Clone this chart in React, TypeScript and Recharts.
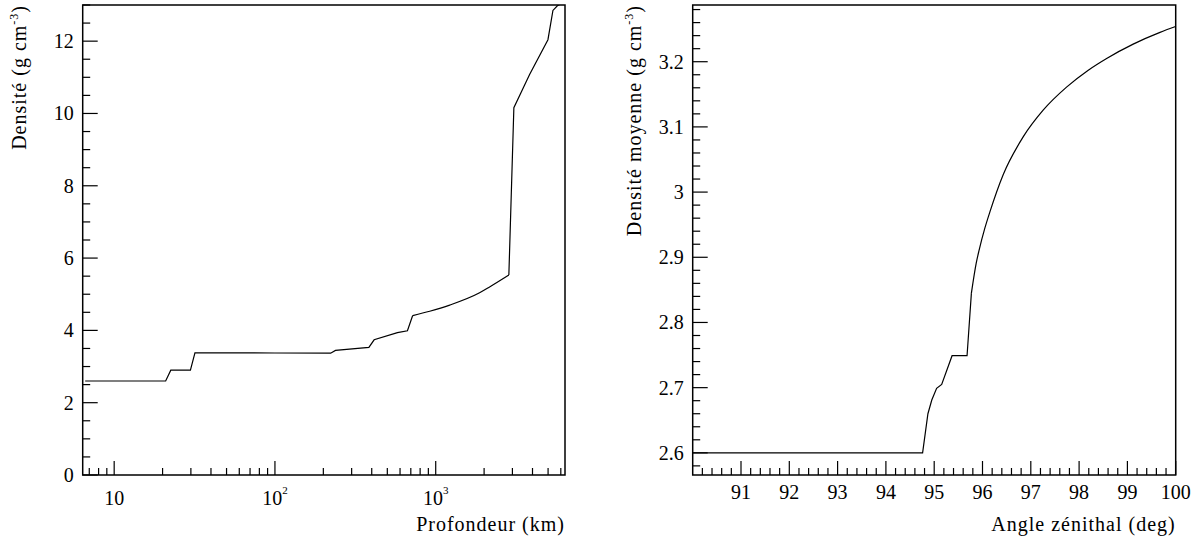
import React from 'react';
import { LineChart, Line, XAxis, YAxis, ReferenceArea } from 'recharts';

const SERIF = 'Liberation Serif';

// Profil de densité en fonction de la profondeur (graphique de gauche)
const depthKm = [6.6, 20.9, 22.5, 29.8, 31.8, 100, 222, 238, 384, 414, 578, 667, 719, 918, 1222, 1875, 2163, 2851, 3063, 3837, 4990, 5360, 5710, 6371];
const density = [2.6, 2.6, 2.9, 2.9, 3.38, 3.375, 3.37, 3.445, 3.53, 3.74, 3.94, 3.99, 4.41, 4.53, 4.7, 5.04, 5.2, 5.53, 10.16, 11.08, 12.04, 12.85, 12.98, 13.09];
// portion lisse (manteau inférieur) : indices 12 à 17
const depthSmooth = [12, 17];

// Densité moyenne en fonction de l'angle zénithal (graphique de droite)
const zenithDeg = [90, 94.76, 94.87, 94.95, 95.05, 95.155, 95.37, 95.68, 95.77, 95.87, 95.93, 96.05, 96.155, 96.43, 96.845, 97.26, 97.74, 98.19, 98.57, 99.12, 99.675, 100];
const meanDensity = [2.6, 2.6, 2.66, 2.681, 2.699, 2.705, 2.749, 2.749, 2.845, 2.891, 2.911, 2.945, 2.97, 3.027, 3.085, 3.126, 3.161, 3.187, 3.205, 3.227, 3.245, 3.254];
const zenithSmooth = [8, 21];

// axes
const depthDomain = [6.371, 6371];
const depthMajor = [10, 100, 1000];
const depthMinor = [7, 8, 9, 20, 30, 40, 50, 60, 70, 80, 90, 200, 300, 400, 500, 600, 700, 800, 900, 2000, 3000, 4000, 5000, 6000];
const densityDomain = [0, 13];
const densityMajor = [0, 2, 4, 6, 8, 10, 12];

const zenithDomain = [90, 100];
const zenithMajor = [91, 92, 93, 94, 95, 96, 97, 98, 99, 100];
const meanDomain = [2.566, 3.287];
const meanMajor = [2.6, 2.7, 2.8, 2.9, 3, 3.1, 3.2];

const steps = (from: number, to: number, step: number) => {
  const out: number[] = [];
  for (let v = from; v <= to + 1e-9; v += step) out.push(Math.round(v * 1000) / 1000);
  return out;
};
const isIn = (arr: number[], v: number) => arr.some(a => Math.abs(a - v) < 1e-6);

// split each profile into a straight part and a smooth part
const split = (xs: number[], ys: number[], key: string, [a, b]: number[]) =>
  xs.map((x, i) => ({
    [key]: x,
    lin: i <= a || i >= b ? ys[i] : undefined,
    smooth: i >= a && i <= b ? ys[i] : undefined,
  }));

const depthData = split(depthKm, density, 'depth', depthSmooth);
const zenithData = split(zenithDeg, meanDensity, 'angle', zenithSmooth);

const XTick = (props: any) => {
  const { x, y, payload, majors, base, fmt } = props;
  const major = isIn(majors, payload.value);
  return (
    <g>
      <line x1={x} x2={x} y1={y} y2={y - (major ? 14 : 7)} stroke="#000" strokeWidth={1.2} />
      {major && fmt && (
        <text x={x} y={y + base} textAnchor="middle" fontFamily={SERIF} fontSize={20} fill="#000">{fmt(payload.value)}</text>
      )}
    </g>
  );
};

const YTick = (props: any) => {
  const { x, y, payload, majors } = props;
  const major = isIn(majors, payload.value);
  return (
    <g>
      <line x1={x} x2={x + (major ? 15 : 7.5)} y1={y} y2={y} stroke="#000" strokeWidth={1.2} />
      {major && (
        <text x={x - 9} y={y + 7} textAnchor="end" fontFamily={SERIF} fontSize={20} fill="#000">{String(payload.value)}</text>
      )}
    </g>
  );
};

const logLabel = (v: number) => {
  if (v === 10) return '10';
  const p = Math.round(Math.log10(v));
  return (
    <>
      10<tspan dy={-11} fontSize={11}>{p}</tspan>
    </>
  );
};

const XTitle = (text: string) => (props: any) => {
  const vb = props.viewBox || {};
  return (
    <text x={vb.x + vb.width} y={vb.y + 56} textAnchor="end" fontFamily={SERIF} fontSize={20} fill="#000" letterSpacing={1}>{text}</text>
  );
};

const YTitle = (text: string, bx: number) => (props: any) => {
  const vb = props.viewBox || {};
  const x = (vb.x || 0) + bx;
  const y = vb.y;
  return (
    <text transform={`translate(${x},${y}) rotate(-90)`} textAnchor="end" fontFamily={SERIF} fontSize={20} fill="#000" letterSpacing={1}>
      {text} (g cm<tspan dy={-8} fontSize={12}>-3</tspan><tspan dy={8}>)</tspan>
    </text>
  );
};

export default function App() {
  return (
    <div style={{ position: 'absolute', left: 0, top: 0, width: 1203, height: 540, background: '#fff' }}>
      <div style={{ position: 'absolute', left: 0, top: 0 }}>
        <LineChart width={600} height={540} data={depthData} margin={{ top: 5, right: 35, bottom: 0, left: 0 }}>
          <XAxis
            dataKey="depth"
            type="number"
            scale="log"
            domain={depthDomain}
            allowDataOverflow
            ticks={[...depthMajor, ...depthMinor].sort((a, b) => a - b)}
            interval={0}
            height={65}
            tickSize={0}
            tickMargin={0}
            axisLine={false}
            tickLine={false}
            tick={<XTick majors={depthMajor} base={30} fmt={logLabel} />}
            label={XTitle('Profondeur (km)')}
          />
          <YAxis
            type="number"
            domain={densityDomain}
            allowDataOverflow
            ticks={steps(0, 13, 0.5)}
            interval={0}
            width={82.7}
            tickSize={0}
            tickMargin={0}
            axisLine={false}
            tickLine={false}
            tick={<YTick majors={densityMajor} />}
            label={YTitle('Densité', 26)}
          />
          <Line type="linear" dataKey="lin" stroke="#000" strokeWidth={1.2} dot={false} isAnimationActive={false} />
          <Line type="monotone" dataKey="smooth" stroke="#000" strokeWidth={1.2} dot={false} isAnimationActive={false} />
          <ReferenceArea x1={depthDomain[0]} x2={depthDomain[1]} y1={densityDomain[0]} y2={densityDomain[1]} fill="none" stroke="#000" strokeWidth={1.5} ifOverflow="visible" />
        </LineChart>
      </div>
      <div style={{ position: 'absolute', left: 600, top: 0 }}>
        <LineChart width={603} height={540} data={zenithData} margin={{ top: 5, right: 27.3, bottom: 0, left: 0 }}>
          <XAxis
            dataKey="angle"
            type="number"
            domain={zenithDomain}
            allowDataOverflow
            ticks={steps(90.2, 100, 0.2)}
            interval={0}
            height={65}
            tickSize={0}
            tickMargin={0}
            axisLine={false}
            tickLine={false}
            tick={<XTick majors={zenithMajor} base={24} fmt={(v: number) => String(v)} />}
            label={XTitle('Angle zénithal (deg)')}
          />
          <YAxis
            type="number"
            domain={meanDomain}
            allowDataOverflow
            ticks={steps(2.58, 3.28, 0.02)}
            interval={0}
            width={92.7}
            tickSize={0}
            tickMargin={0}
            axisLine={false}
            tickLine={false}
            tick={<YTick majors={meanMajor} />}
            label={YTitle('Densité moyenne', 41)}
          />
          <Line type="linear" dataKey="lin" stroke="#000" strokeWidth={1.2} dot={false} isAnimationActive={false} />
          <Line type="monotone" dataKey="smooth" stroke="#000" strokeWidth={1.2} dot={false} isAnimationActive={false} />
          <ReferenceArea x1={zenithDomain[0]} x2={zenithDomain[1]} y1={meanDomain[0]} y2={meanDomain[1]} fill="none" stroke="#000" strokeWidth={1.5} ifOverflow="visible" />
        </LineChart>
      </div>
    </div>
  );
}
